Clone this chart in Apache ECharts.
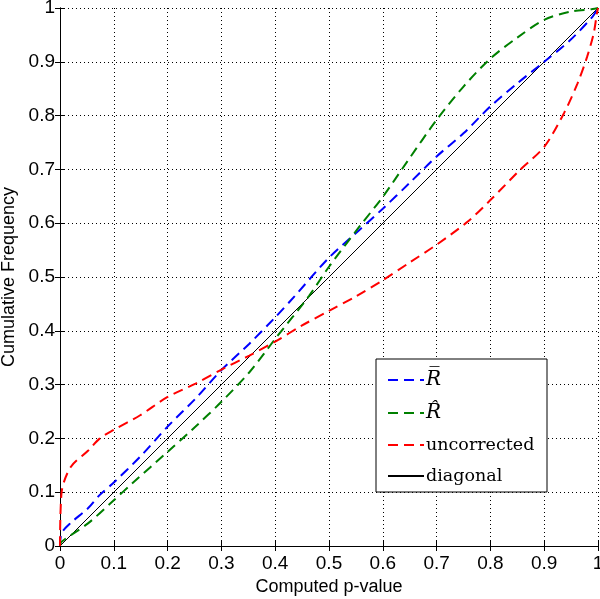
<!DOCTYPE html>
<html><head><meta charset="utf-8">
<script src="https://cdn.jsdelivr.net/npm/echarts@6/dist/echarts.min.js"></script>
<style>html,body{margin:0;padding:0;background:#fff}#c{width:600px;height:599px}</style>
</head><body><div id="c"></div>
<script>
var xTicks = [0,0.1,0.2,0.3,0.4,0.5,0.6,0.7,0.8,0.9,1];
var seriesNames = ['Rbar','Rhat','uncorrected','diagonal'];
var rbarP = [0,0.003,0.02,0.052,0.074,0.1,0.149,0.2,0.252,0.3,0.352,0.4,0.435,0.5,0.556,0.6,0.649,0.7,0.75,0.8,0.85,0.9,0.948,0.99,1];
var rbarV = [0,0.024,0.043,0.070,0.095,0.118,0.166,0.222,0.274,0.327,0.376,0.425,0.463,0.536,0.587,0.627,0.674,0.724,0.767,0.817,0.86,0.90,0.94,0.984,1];
var rhatP = [0,0.003,0.052,0.1,0.136,0.2,0.252,0.3,0.352,0.4,0.463,0.5,0.556,0.6,0.645,0.7,0.75,0.8,0.85,0.9,0.948,0.99,1];
var rhatV = [0,0.008,0.042,0.085,0.118,0.175,0.222,0.268,0.323,0.385,0.465,0.519,0.593,0.649,0.714,0.792,0.854,0.906,0.945,0.978,0.993,0.998,1];
var uncP = [0,0.003,0.02,0.052,0.074,0.1,0.149,0.2,0.252,0.3,0.352,0.4,0.45,0.5,0.55,0.6,0.65,0.7,0.758,0.8,0.856,0.9,0.937,0.962,0.98,0.992,0.998,1];
var uncV = [0,0.10,0.147,0.177,0.200,0.216,0.243,0.277,0.302,0.328,0.354,0.380,0.410,0.437,0.464,0.494,0.527,0.560,0.603,0.643,0.70,0.742,0.805,0.86,0.91,0.953,0.99,1];
var diagP = [0,1];
var diagV = [0,1];

function pairs(a,b){return a.map(function(x,i){return [x,b[i]];});}
var fmtTick = function(v){return String(+v.toFixed(1));};
var chart = echarts.init(document.getElementById('c'));
var dash = [10,6];
var axisCommon = {
  type:'value', min:0, max:1, interval:0.1,
  axisLine:{show:true,lineStyle:{color:'#000',width:1}},
  axisTick:{show:true,inside:true,length:5,lineStyle:{color:'#000'}},
};
chart.setOption({
  animation:false,
  backgroundColor:'#fff',
  grid:{left:60,right:2,top:8,bottom:53,containLabel:false,outerBoundsMode:'none'},
  xAxis:[
    Object.assign({}, axisCommon, {position:'bottom',
      name:'Computed p-value', nameLocation:'middle', nameGap:28,
      nameTextStyle:{fontFamily:'Liberation Sans',fontSize:18,color:'#000'},
      axisLabel:{color:'#000',fontFamily:'Liberation Sans',fontSize:19,margin:8,formatter:fmtTick},
      splitLine:{show:true,lineStyle:{color:'#000',type:[1,3],width:1}}}),
    Object.assign({}, axisCommon, {position:'top',axisLabel:{show:false},splitLine:{show:false}})
  ],
  yAxis:[
    Object.assign({}, axisCommon, {position:'left',
      name:'Cumulative Frequency', nameLocation:'middle', nameGap:39,
      nameTextStyle:{fontFamily:'Liberation Sans',fontSize:18,color:'#000'},
      axisLabel:{color:'#000',fontFamily:'Liberation Sans',fontSize:19,margin:5,formatter:fmtTick},
      splitLine:{show:true,lineStyle:{color:'#000',type:[1,3],width:1}}}),
    Object.assign({}, axisCommon, {position:'right',axisLabel:{show:false},splitLine:{show:false}})
  ],
  graphic:[{type:'rect',shape:{x:376,y:359,width:171,height:133},
    style:{fill:'#fff',stroke:'#000',lineWidth:1},z:10}],
  legend:{
    orient:'vertical', left:387, top:370, padding:0, itemGap:13,
    itemWidth:36, itemHeight:14, z:20,
    itemStyle:{opacity:0},
    data:seriesNames,
    formatter:function(n){
      if(n==='Rbar') return '{m|R\u0305}';
      if(n==='Rhat') return '{m|R\u0302}';
      return '{t|'+n+'}';
    },
    textStyle:{color:'#000',padding:[0,0,0,-3],
      rich:{
        m:{fontFamily:'DejaVu Serif',fontStyle:'italic',fontSize:20,color:'#000'},
        t:{fontFamily:'DejaVu Serif',fontSize:17.5,color:'#000'}
      }}
  },
  series:[
    {name:'Rbar',type:'line',data:pairs(rbarP,rbarV),showSymbol:false,symbol:'none',smooth:0.3,
      lineStyle:{color:'#0000ff',width:2,type:dash},itemStyle:{color:'#0000ff'},z:3},
    {name:'Rhat',type:'line',data:pairs(rhatP,rhatV),showSymbol:false,symbol:'none',smooth:0.3,
      lineStyle:{color:'#008000',width:2,type:dash},itemStyle:{color:'#008000'},z:3},
    {name:'uncorrected',type:'line',data:pairs(uncP,uncV),showSymbol:false,symbol:'none',smooth:0.3,
      lineStyle:{color:'#ff0000',width:2,type:dash},itemStyle:{color:'#ff0000'},z:3},
    {name:'diagonal',type:'line',data:pairs(diagP,diagV),showSymbol:false,symbol:'none',
      lineStyle:{color:'#000',width:1,type:'solid'},itemStyle:{color:'#000'},z:2}
  ]
});
</script></body></html>
